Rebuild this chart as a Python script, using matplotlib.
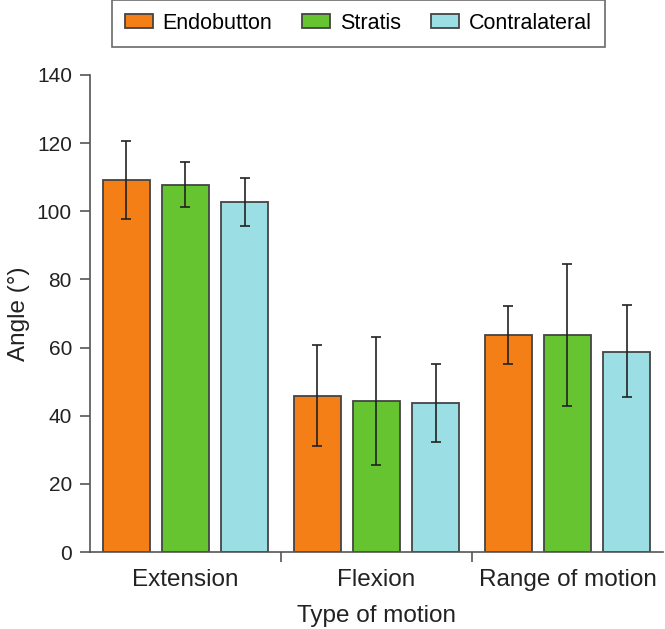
import numpy as np
import matplotlib
matplotlib.use("Agg")
import matplotlib.pyplot as plt

plt.rcParams["font.family"] = ["Liberation Sans", "DejaVu Sans"]

categories = ["Extension", "Flexion", "Range of motion"]
groups = ["Endobutton", "Stratis", "Contralateral"]
means = {
    "Endobutton":    [109.2, 45.8, 63.7],
    "Stratis":       [107.6, 44.3, 63.7],
    "Contralateral": [102.6, 43.7, 58.7],
}
err_low = {
    "Endobutton":    [97.7, 31.1, 55.2],
    "Stratis":       [101.3, 25.5, 42.9],
    "Contralateral": [95.7, 32.3, 45.5],
}
err_high = {
    "Endobutton":    [120.6, 60.8, 72.2],
    "Stratis":       [114.5, 63.1, 84.5],
    "Contralateral": [109.8, 55.2, 72.5],
}
colors = {"Endobutton": "#F57F17", "Stratis": "#66C431", "Contralateral": "#9BDFE5"}
EDGE = "#444444"
TXT = "#222222"

fig = plt.figure(figsize=(6.65, 6.29), dpi=100)
ax = fig.add_axes([0.1353, 0.1224, 0.8617, 0.7584])

x = np.arange(len(categories))
offsets = [-0.31, 0, 0.31]
width = 0.245
for g, off in zip(groups, offsets):
    m = np.array(means[g])
    lo = m - np.array(err_low[g])
    hi = np.array(err_high[g]) - m
    ax.bar(x + off, m, width=width, color=colors[g], edgecolor=EDGE,
           linewidth=1.3, label=g, zorder=2)
    ax.errorbar(x + off, m, yerr=[lo, hi], fmt="none", ecolor=TXT,
                elinewidth=1.2, capsize=3.8, capthick=1.2, zorder=3)

ax.set_xlim(-0.5, 2.5)
ax.set_ylim(0, 140)
ax.set_yticks(range(0, 141, 20))
ax.set_xticks(x)
ax.set_xticklabels(categories)
ax.set_xticks([0.5, 1.5], minor=True)
ax.tick_params(axis="x", which="major", length=0, pad=12, labelsize=17.5, colors=TXT)
ax.tick_params(axis="x", which="minor", length=7, width=1.2, color="#555555")
ax.tick_params(axis="y", length=7, width=1.2, color="#555555", labelsize=15,
               labelcolor=TXT, pad=6)
for s in ("top", "right"):
    ax.spines[s].set_visible(False)
for s in ("left", "bottom"):
    ax.spines[s].set_color("#555555")
    ax.spines[s].set_linewidth(1.2)

ax.set_xlabel("Type of motion", fontsize=17.5, color=TXT, labelpad=10)
ax.set_ylabel("Angle (°)", fontsize=17.5, color=TXT, labelpad=5)

leg = fig.legend(loc="center", bbox_to_anchor=(0.539, 0.963), ncol=3,
                 fontsize=15.5, frameon=True, fancybox=False, edgecolor="#444444",
                 handlelength=1.3, handleheight=0.6, columnspacing=1.4,
                 handletextpad=0.45, borderpad=0.6)
leg.get_frame().set_linewidth(1.2)

fig.savefig("out.png", dpi=100, facecolor="white")
